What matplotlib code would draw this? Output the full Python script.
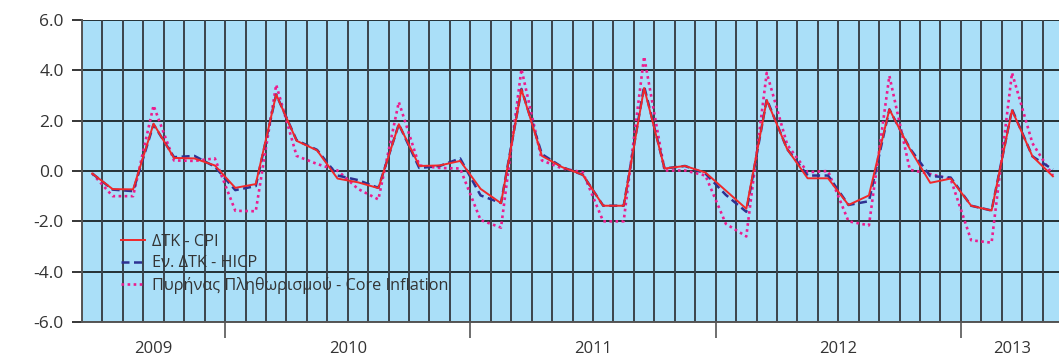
import numpy as np
import matplotlib
matplotlib.use("Agg")
import matplotlib.pyplot as plt

plt.rcParams['font.family'] = ['Open Sans', 'DejaVu Sans']

# monthly % change, Jun 2009 - May 2013
years = ['2009', '2010', '2011', '2012', '2013']
months_per_year = [7, 12, 12, 12, 5]

cpi = [-0.10, -0.72, -0.73, 1.88, 0.52, 0.50, 0.22,
       -0.67, -0.52, 3.04, 1.20, 0.82, -0.30, -0.45, -0.68, 1.86, 0.20, 0.22, 0.40,
       -0.71, -1.28, 3.24, 0.60, 0.15, -0.15, -1.38, -1.38, 3.30, 0.10, 0.20, -0.06,
       -0.78, -1.50, 2.82, 0.87, -0.29, -0.29, -1.35, -0.97, 2.45, 0.88, -0.47, -0.30,
       -1.38, -1.57, 2.42, 0.58, -0.21]
hicp = [-0.10, -0.74, -0.80, 1.85, 0.55, 0.60, 0.17,
        -0.76, -0.60, 3.04, 1.22, 0.84, -0.18, -0.36, -0.67, 1.86, 0.12, 0.20, 0.50,
        -0.97, -1.27, 3.26, 0.67, 0.15, -0.15, -1.38, -1.38, 3.37, 0.10, 0.20, -0.10,
        -0.95, -1.62, 2.85, 0.87, -0.18, -0.18, -1.35, -1.20, 2.45, 0.90, -0.20, -0.26,
        -1.38, -1.57, 2.45, 0.58, 0.06]
core = [-0.10, -1.00, -1.00, 2.60, 0.42, 0.40, 0.50,
        -1.58, -1.60, 3.43, 0.60, 0.28, 0.02, -0.71, -1.13, 2.74, 0.22, 0.12, 0.10,
        -1.95, -2.25, 4.05, 0.42, 0.10, -0.05, -2.00, -2.00, 4.55, 0.02, 0.02, -0.18,
        -2.10, -2.60, 3.90, 1.05, -0.05, 0.00, -2.00, -2.16, 3.78, 0.05, -0.12, -0.32,
        -2.75, -2.85, 3.90, 1.10, -0.18]

labels = ['ΔΤΚ - CPI', 'Εν. ΔΤΚ - HICP', 'Πυρήνας Πληθωρισμού - Core Inflation']

n = len(cpi)
x = np.arange(n) + 0.5

fig = plt.figure(figsize=(10.59, 3.59), dpi=100)
W, H = 1059, 359
ax = fig.add_axes([82 / W, 1 - 322 / H, n * 20.44 / W, 302 / H])
ax.set_facecolor('#aadff8')

# month boundaries
for b in range(n + 1):
    ax.axvline(b, color='#3a434b', lw=1.4, zorder=1)

ax.set_ylim(-6, 6)
ax.set_xlim(0, n)
ax.set_yticks(np.arange(-6, 7, 2))
ax.set_yticklabels(['%.1f' % v for v in np.arange(-6, 7, 2)])
ax.grid(axis='y', color='black', lw=1.1, zorder=1)
ax.set_axisbelow(True)

ax.plot(x, cpi, color='#f0282a', lw=1.4, label=labels[0], zorder=4)
ax.plot(x, hicp, color='#2e3192', lw=1.8, ls=(0, (3.2, 1.8)), label=labels[1], zorder=3)
ax.plot(x, core, color='#ec1c8e', lw=1.9, ls=(0, (1, 1.3)), label=labels[2], zorder=2)

# year separators and centred year labels
bounds = np.cumsum([0] + months_per_year)
ax.set_xticks(bounds[1:-1])
ax.set_xticklabels([])
ax.set_xticks((bounds[:-1] + bounds[1:]) / 2, minor=True)
ax.set_xticklabels(years, minor=True)
ax.tick_params(axis='x', which='major', length=11.5, width=1.2, color='#555555')
ax.tick_params(axis='x', which='minor', length=0, pad=14, labelsize=12, labelcolor='#333333')
ax.tick_params(axis='y', length=7.2, width=1.1, color='black', pad=6,
               labelsize=12.5, labelcolor='#333333')

for s in ['top', 'right']:
    ax.spines[s].set_visible(False)
ax.spines['left'].set_color('#555555')
ax.spines['bottom'].set_color('#555555')
ax.spines['left'].set_linewidth(1.4)
ax.spines['bottom'].set_linewidth(1.4)

leg = ax.legend(loc='upper left', bbox_to_anchor=(121 / W, 1 - 234 / H),
                bbox_transform=fig.transFigure, frameon=False, fontsize=11.7,
                handlelength=1.45, handletextpad=0.45, labelspacing=0.33,
                borderpad=0, borderaxespad=0)
for t in leg.get_texts():
    t.set_color('#333333')

fig.savefig('out.png', dpi=100)
